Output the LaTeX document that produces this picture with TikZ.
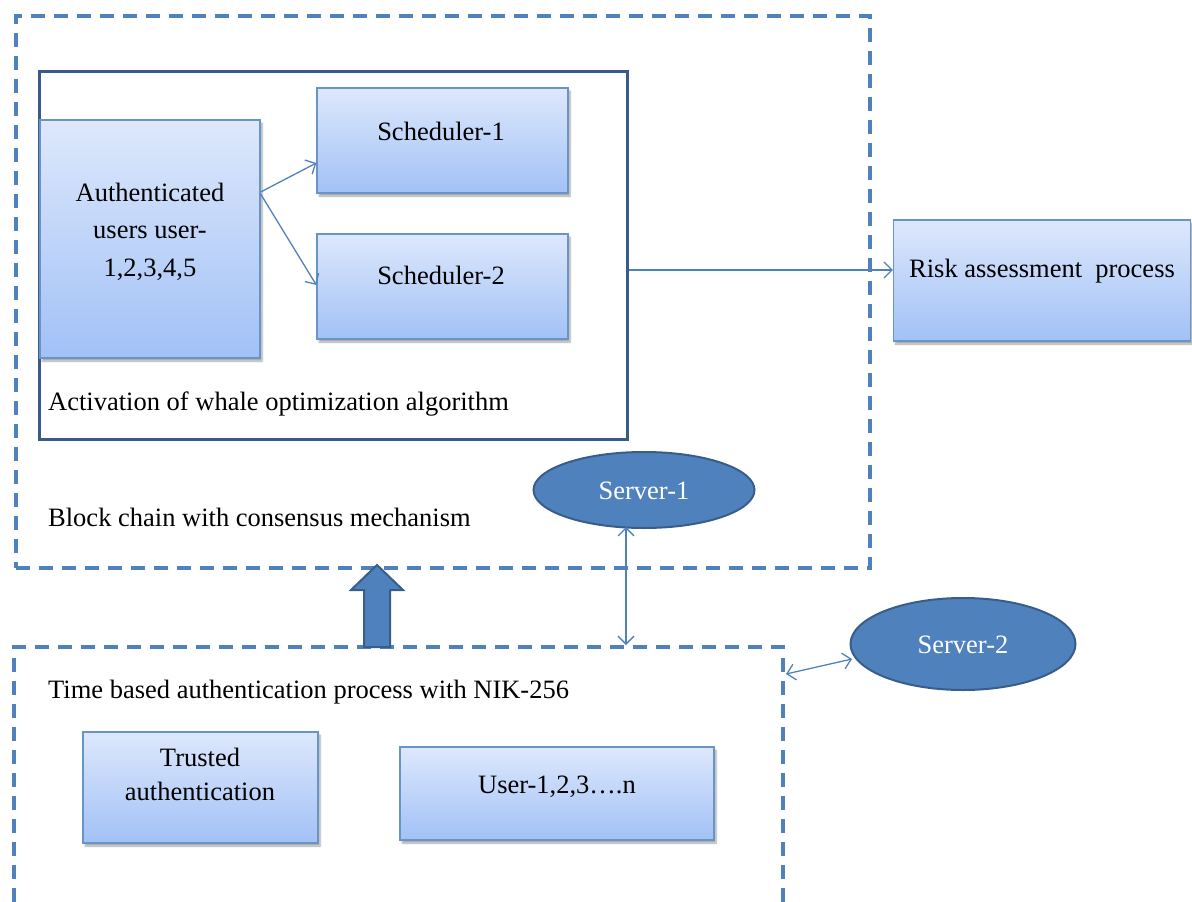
\documentclass[tikz,border=0pt]{standalone}
\usepackage{fontspec}
\setmainfont{Liberation Serif}
\usetikzlibrary{arrows.meta,shapes.geometric,shadows.blur}
\definecolor{dblue}{HTML}{4F81BD}
\definecolor{dkblue}{HTML}{385D8A}
\definecolor{frameblue}{HTML}{3A5A87}
\definecolor{gtop}{HTML}{DDE8FC}
\definecolor{gbot}{HTML}{A2C1F6}
\begin{document}
\begin{tikzpicture}[x=1pt,y=-1pt,
  bbox/.style={draw=dblue!85, line width=1.3pt, top color=gtop, bottom color=gbot,
    blur shadow={shadow xshift=2pt,shadow yshift=-3pt,shadow blur steps=6,shadow opacity=35},
    inner sep=0pt},
  txt/.style={font=\fontsize{26.5}{30}\selectfont, inner sep=0pt},
  dashbox/.style={draw=dblue, line width=3.8pt, dash pattern=on 14pt off 9pt},
  conn/.style={draw=dblue, line width=1.3pt, -{Straight Barb[length=8pt,width=16pt]}},
  biconn/.style={draw=dblue, line width=1.3pt, {Straight Barb[length=8pt,width=16pt]}-{Straight Barb[length=8pt,width=16pt]}},
  server/.style={ellipse, fill=dblue, draw=dkblue, line width=2pt, inner sep=0pt},
]
\useasboundingbox (0,0) rectangle (1192,902);

% outer dashed region (block chain)
\node[dashbox, minimum width=854, minimum height=552, anchor=north west] (bc) at (14,14) {};
% bottom dashed region (open at bottom)
\coordinate (bl) at (14,902);
\coordinate (tl) at (14,647);
\coordinate (tr) at (783,647);
\coordinate (br) at (783,902);
\draw[dashbox] (bl) -- (tl) -- (tr) -- (br);

% inner solid frame
\node[draw=frameblue, line width=3pt, minimum width=588, minimum height=368, anchor=north west, inner sep=0pt] (wo) at (38,70) {};

% boxes
\node[bbox, minimum width=220, minimum height=238] (auth) at (150,239) {};
\node[bbox, minimum width=251, minimum height=105] (sch1) at (442.5,140.5) {};
\node[bbox, minimum width=251, minimum height=105] (sch2) at (442.5,286.5) {};
\node[bbox, minimum width=297, minimum height=121] (risk) at (1042,280.5) {};
\node[bbox, minimum width=235, minimum height=111] (trust) at (200.5,787.5) {};
\node[bbox, minimum width=314, minimum height=93] (users) at (557,793.5) {};

% texts
\node[txt, align=center, font=\fontsize{26.5}{37.5}\selectfont, anchor=base] (authtxt) at (150,276) {Authenticated\\users user-\\1,2,3,4,5};
\node[txt, anchor=base] (sch1txt) at (441,140) {Scheduler-1};
\node[txt, anchor=base] (sch2txt) at (441,284) {Scheduler-2};
\node[txt, anchor=base] (risktxt) at (1042,277) {Risk assessment\ \ process};
\node[txt, anchor=base west] (wotxt) at (48,410) {Activation of whale optimization algorithm};
\node[txt, anchor=base west] (bctxt) at (48,526) {Block chain with consensus mechanism};
\node[txt, anchor=base west] (tbtxt) at (48,698) {Time based authentication process with NIK-256};
\node[txt, align=center, font=\fontsize{26.5}{34}\selectfont, anchor=base] (trusttxt) at (200,800) {Trusted\\authentication};
\node[txt, anchor=base] (userstxt) at (557,793) {User-1,2,3\dots.n};

% servers
\node[server, minimum width=221, minimum height=76] (s1) at (644,490) {};
\node[txt, text=white, anchor=base] (s1txt) at (644,499) {Server-1};
\node[server, minimum width=225, minimum height=92] (s2) at (963,644) {};
\node[txt, text=white, anchor=base] (s2txt) at (963,653) {Server-2};

% connectors
\draw[conn] (auth.east |- 0,192) -- (sch1.west |- 0,163);
\draw[conn] (auth.east |- 0,194) -- (sch2.west |- 0,285);
\draw[conn] (wo.east |- 0,270) -- (risk.west |- 0,270);
\coordinate (s1b) at (626,527);
\coordinate (bt) at (626,645);
\draw[biconn] (s1b) -- (bt);
\coordinate (s2l) at (852,659);
\coordinate (bre) at (786,674);
\draw[biconn] (bre) -- (s2l);

% thick block arrow
\coordinate (tip) at (377,565);
\draw[fill=dblue, draw=dkblue, line width=2pt, line join=miter]
  (364,647) -- (364,590) -- (351,590) -- (tip) -- (403,590) -- (390,590) -- (390,647) -- cycle;
\end{tikzpicture}
\end{document}
